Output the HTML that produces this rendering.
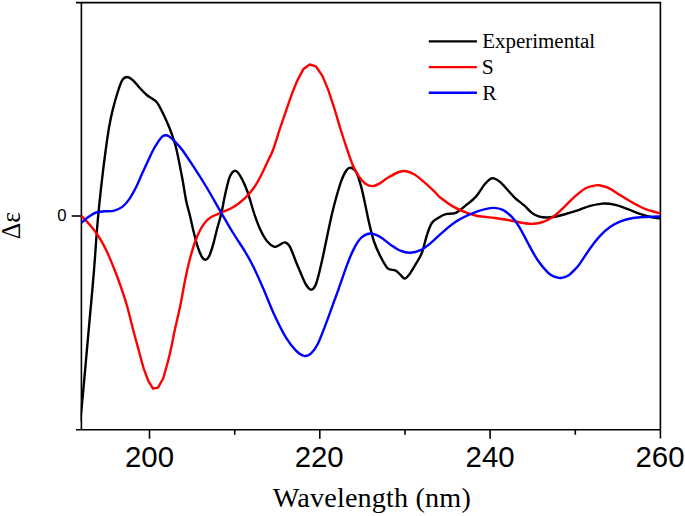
<!DOCTYPE html>
<html><head><meta charset="utf-8"><style>
html,body{margin:0;padding:0;background:#fff;}
body{width:685px;height:516px;overflow:hidden;position:relative;}
svg{position:absolute;left:0;top:0;display:block;}
.sans{font-family:"Liberation Sans",sans-serif;fill:#000;}
.serif{font-family:"Liberation Serif",serif;fill:#000;}
</style></head><body>
<svg width="685" height="516" viewBox="0 0 685 516">
<rect width="685" height="516" fill="#fff"/>
<defs><clipPath id="cp"><rect x="80.6" y="0" width="580.7" height="430.5"/></clipPath></defs>
<g stroke="#000" stroke-width="1.6" fill="none" stroke-linecap="butt">
<path d="M76 2.6H660.4"/>
<path d="M76 429.7H660.4"/>
<path d="M81.4 2.6V429.7"/>
<path d="M660.4 1.8V438.6"/>
<path d="M71.7 216H81.4"/>
<path d="M149.5 429.7V438.8M319.8 429.7V438.8M490.1 429.7V438.8"/>
<path d="M234.7 429.7V434.7M405.0 429.7V434.7M575.3 429.7V434.7"/>
</g>
<g clip-path="url(#cp)" fill="none" stroke-linecap="butt" stroke-linejoin="round" stroke-width="2.4">
<path d="M80.2 421.0C80.4 419.2 80.9 415.2 81.4 410.0C81.9 404.8 82.5 398.3 83.3 390.0C84.1 381.7 85.1 370.0 86.0 360.0C86.9 350.0 87.8 340.4 88.7 330.0C89.6 319.6 90.7 307.6 91.6 297.8C92.5 288.1 93.1 281.1 93.9 271.5C94.7 261.9 95.6 248.6 96.2 240.0C96.8 231.4 97.1 227.8 97.8 220.1C98.5 212.4 99.5 202.0 100.4 193.8C101.3 185.6 102.1 178.3 103.0 171.0C103.9 163.7 104.7 157.4 105.7 150.0C106.7 142.6 108.0 133.3 109.2 126.6C110.4 119.9 111.2 115.8 112.7 109.9C114.2 104.1 116.3 96.5 117.9 91.5C119.5 86.5 120.8 82.5 122.3 80.1C123.8 77.7 125.2 77.0 127.0 77.0C128.8 77.0 130.7 78.3 132.8 80.1C134.9 81.9 137.5 85.5 139.8 88.0C142.1 90.5 144.8 93.2 146.8 95.0C148.9 96.8 150.3 97.2 152.1 98.5C153.8 99.8 155.6 100.6 157.3 102.9C159.1 105.2 160.6 108.4 162.6 112.6C164.6 116.8 167.7 123.6 169.6 128.3C171.5 133.0 172.8 137.0 174.0 140.6C175.2 144.2 175.3 144.1 176.6 150.0C177.9 155.9 180.3 168.0 181.9 176.3C183.5 184.6 184.8 193.8 186.0 200.0C187.2 206.2 188.2 208.4 189.4 213.6C190.7 218.8 192.2 225.8 193.5 231.2C194.8 236.6 196.2 241.9 197.5 246.1C198.8 250.3 200.3 254.0 201.6 256.3C202.9 258.6 204.2 259.7 205.4 259.7C206.7 259.7 207.8 258.8 209.1 256.3C210.4 253.8 211.8 249.3 213.1 244.7C214.4 240.1 215.8 233.7 217.2 228.5C218.6 223.3 219.9 219.6 221.3 213.5C222.7 207.4 224.2 198.2 225.7 192.0C227.1 185.8 228.4 179.9 230.0 176.3C231.6 172.8 233.6 170.7 235.3 170.7C237.1 170.7 238.4 172.8 240.5 176.3C242.6 179.9 245.2 185.6 247.6 192.0C249.9 198.4 252.4 208.5 254.6 214.8C256.8 221.1 258.4 225.6 260.5 230.0C262.6 234.4 265.0 238.7 267.3 241.5C269.6 244.3 272.3 246.2 274.3 246.8C276.3 247.4 277.8 245.7 279.5 245.0C281.2 244.3 283.1 242.1 284.8 242.4C286.6 242.7 288.0 243.2 290.0 246.8C292.0 250.5 294.6 258.6 297.0 264.3C299.4 270.0 302.5 277.5 304.1 281.0C305.7 284.5 305.8 284.2 306.6 285.5C307.4 286.8 308.2 287.9 309.0 288.6C309.8 289.3 310.5 289.7 311.2 289.7C311.9 289.7 312.6 289.4 313.4 288.6C314.1 287.8 314.8 287.0 315.7 284.8C316.6 282.6 317.5 279.2 318.5 275.5C319.5 271.8 320.2 268.9 321.6 262.6C323.0 256.4 325.2 245.8 326.8 238.0C328.4 230.2 330.0 222.6 331.5 216.0C333.0 209.4 334.4 204.2 336.0 198.3C337.6 192.4 339.6 185.5 341.3 180.8C343.1 176.1 344.9 172.5 346.5 170.3C348.1 168.1 349.3 167.4 350.9 167.7C352.5 168.0 354.5 168.9 356.2 172.0C357.9 175.1 359.5 180.8 361.0 186.1C362.5 191.3 363.7 197.5 365.0 203.5C366.3 209.5 367.4 215.7 368.9 222.0C370.4 228.3 372.1 235.9 374.0 241.5C375.9 247.1 377.8 251.3 380.1 255.8C382.4 260.3 385.2 266.0 387.7 268.4C390.2 270.8 393.2 269.3 395.3 270.4C397.4 271.4 398.8 273.3 400.3 274.7C401.9 276.1 403.1 278.5 404.6 278.5C406.1 278.5 407.3 277.0 409.1 274.7C410.9 272.4 413.3 268.2 415.4 264.6C417.5 261.0 419.8 258.1 421.7 253.3C423.6 248.5 425.1 240.7 426.8 235.6C428.5 230.5 429.9 225.9 431.8 223.0C433.7 220.1 435.8 219.5 438.1 218.0C440.4 216.5 442.8 215.0 445.7 214.2C448.6 213.3 452.3 214.4 455.7 212.9C459.1 211.4 462.4 208.1 465.8 205.4C469.2 202.7 472.8 200.1 475.9 196.6C479.0 193.1 482.1 187.4 484.5 184.5C486.9 181.6 488.6 179.9 490.2 178.9C491.8 177.9 492.3 177.9 494.0 178.4C495.7 178.9 498.0 180.2 500.3 182.2C502.6 184.2 505.4 187.5 507.9 190.2C510.4 192.9 512.7 195.8 515.4 198.3C518.1 200.8 521.5 203.0 524.2 205.4C526.9 207.8 529.3 211.0 531.8 212.9C534.3 214.8 536.7 215.9 539.4 216.7C542.1 217.5 545.1 217.6 548.2 217.5C551.4 217.4 554.5 216.8 558.3 216.0C562.1 215.2 567.7 213.3 570.9 212.4C574.1 211.5 574.4 211.5 577.6 210.4C580.8 209.3 586.0 207.0 590.2 205.9C594.4 204.8 598.6 203.8 602.8 203.6C607.0 203.4 611.2 204.0 615.4 204.9C619.6 205.8 623.8 207.6 628.0 209.2C632.2 210.8 636.8 212.9 640.6 214.2C644.4 215.5 647.4 216.3 650.7 217.0C654.0 217.7 658.7 218.2 660.3 218.5" stroke="#000"/>
<path d="M81.4 215.8C82.3 216.8 85.2 219.6 87.0 221.6C88.8 223.6 90.5 225.5 92.2 227.7C93.9 229.9 95.7 232.1 97.4 234.7C99.2 237.3 101.0 240.2 102.7 243.4C104.5 246.6 106.2 250.0 107.9 253.8C109.6 257.6 111.3 261.7 113.1 266.1C114.8 270.5 116.7 275.2 118.4 280.0C120.2 284.8 122.1 290.3 123.6 294.9C125.1 299.5 125.9 301.6 127.5 307.5C129.1 313.4 131.3 322.7 133.2 330.0C135.1 337.3 137.2 344.8 139.0 351.3C140.8 357.8 142.2 363.9 143.8 368.8L148.3 380.8L153.1 388.7L158.0 387.6L163.2 378.5L168.1 361.0C169.6 355.3 170.8 349.7 171.9 344.5C173.0 339.3 173.4 336.3 174.8 330.0C176.2 323.7 178.3 315.2 180.1 306.6C181.9 298.0 183.8 286.4 185.4 278.5C187.0 270.6 188.2 265.3 189.8 259.3C191.4 253.3 193.1 247.4 194.8 242.5C196.6 237.6 198.5 233.3 200.3 229.8C202.1 226.3 203.7 223.9 205.7 221.7C207.7 219.4 209.9 217.8 212.5 216.3C215.1 214.8 217.8 214.2 221.3 212.6C224.8 211.0 229.4 209.4 233.5 206.9C237.6 204.4 242.3 200.7 245.8 197.3C249.3 194.0 251.8 190.9 254.6 186.8C257.4 182.7 260.1 177.3 262.4 172.8C264.7 168.3 266.8 163.4 268.6 159.6C270.4 155.8 271.2 154.9 273.0 150.0C274.8 145.1 277.4 136.4 279.5 130.0C281.6 123.6 283.6 117.8 285.7 111.8C287.8 105.8 289.8 99.6 291.8 94.3C293.8 89.0 295.7 84.2 297.6 80.0L303.5 68.9L309.7 64.5L315.8 66.3L322.4 75.9L328.2 89.9L333.8 106.6C335.9 113.3 338.7 123.2 340.8 130.0C342.9 136.8 344.5 141.7 346.5 147.5C348.5 153.3 350.6 160.2 352.7 165.0C354.8 169.8 356.6 173.2 358.8 176.4C361.0 179.6 363.5 182.4 365.8 184.0C368.1 185.6 370.5 186.2 372.8 186.1C375.1 186.0 377.2 184.9 379.8 183.4C382.4 181.9 385.4 179.2 388.6 177.3C391.8 175.4 396.2 173.0 399.1 172.0C402.0 171.0 403.5 170.8 406.1 171.2C408.7 171.6 412.0 172.9 414.9 174.7C417.8 176.4 420.2 178.8 423.6 181.7C427.0 184.6 432.2 189.5 435.0 192.2C437.8 194.9 437.6 195.4 440.6 197.8C443.6 200.2 449.0 204.2 453.2 206.6C457.4 209.0 461.7 210.8 465.8 212.4C469.9 214.0 472.7 215.1 477.6 216.0C482.5 216.9 489.7 217.2 495.2 218.0C500.7 218.8 505.8 219.7 510.4 220.5C515.0 221.3 519.2 222.4 523.0 223.0C526.8 223.6 529.8 224.0 533.1 223.8C536.5 223.6 539.8 223.0 543.1 221.8C546.5 220.6 549.8 219.0 553.2 216.7C556.6 214.4 559.9 211.1 563.3 207.9C566.7 204.8 569.8 201.0 573.4 197.8C577.0 194.6 582.0 190.5 585.2 188.5C588.4 186.5 590.4 186.6 592.7 186.0C595.0 185.4 596.5 184.9 599.0 185.2C601.5 185.5 604.3 186.0 607.9 187.7C611.5 189.4 616.3 192.8 620.5 195.3C624.7 197.8 628.9 200.6 633.1 202.9C637.3 205.2 641.2 207.4 645.7 209.2C650.2 210.9 657.9 212.7 660.3 213.4" stroke="#ff0000"/>
<path d="M81.6 222.7C82.8 221.7 86.6 218.3 89.0 216.6C91.4 214.9 93.4 213.4 96.0 212.5C98.6 211.6 101.9 211.6 104.8 211.3C107.7 211.0 110.6 211.5 113.5 210.8C116.4 210.1 119.7 208.9 122.3 206.9C124.9 204.9 127.0 202.4 129.3 199.1C131.6 195.8 134.1 191.2 136.3 186.8C138.5 182.4 140.4 177.3 142.5 172.8C144.6 168.3 146.8 163.4 148.6 159.6C150.4 155.8 151.5 153.1 153.2 150.0C154.9 146.9 157.1 143.5 158.6 141.2C160.1 138.9 161.2 137.4 162.4 136.4C163.6 135.4 164.6 135.2 165.7 135.2C166.8 135.2 167.5 135.3 169.0 136.4C170.5 137.5 172.7 139.3 174.9 141.6C177.1 143.9 179.0 145.4 182.3 150.0C185.7 154.6 190.8 162.5 195.0 168.9C199.2 175.3 202.9 181.1 207.3 188.5C211.7 195.9 217.3 206.0 221.6 213.3C225.8 220.6 228.9 226.1 232.8 232.5C236.7 238.9 241.6 245.9 245.0 251.5C248.4 257.1 250.0 260.0 253.0 266.0C256.0 272.0 259.2 279.3 262.8 287.5C266.4 295.7 270.5 306.6 274.4 315.0C278.3 323.4 282.4 331.7 286.0 337.7C289.6 343.7 293.2 347.8 296.2 350.8C299.2 353.8 301.7 355.3 304.1 355.8C306.5 356.3 308.5 355.8 310.8 353.7C313.1 351.6 315.4 348.8 318.0 343.5C320.6 338.2 323.8 329.4 326.7 321.7C329.6 314.0 333.1 304.0 335.5 297.5C337.9 291.0 338.7 288.5 340.8 282.7C342.9 276.9 345.5 268.6 347.9 262.6C350.2 256.6 352.6 251.0 354.9 246.8C357.2 242.6 359.3 239.4 361.9 237.2C364.5 235.0 367.6 233.6 370.6 233.5C373.6 233.4 376.8 235.1 380.1 236.9C383.4 238.7 386.8 242.1 390.2 244.4C393.6 246.7 396.9 249.3 400.3 250.7C403.7 252.1 407.0 252.9 410.4 252.8C413.8 252.7 417.1 251.8 420.5 250.2C423.9 248.6 426.7 246.3 430.5 243.2C434.3 240.1 438.9 235.4 443.1 231.8C447.3 228.2 451.5 224.6 455.7 221.8C459.9 219.0 464.6 216.8 468.4 215.0C472.2 213.2 475.6 212.2 478.4 211.2C481.2 210.2 482.6 209.8 485.2 209.2C487.8 208.6 491.1 207.8 494.0 207.9C496.9 208.0 499.9 208.4 502.8 209.9C505.7 211.4 508.9 213.9 511.6 216.7C514.3 219.5 516.5 222.4 519.2 226.8C521.9 231.2 524.9 237.5 528.0 243.2C531.1 248.9 534.7 255.9 538.1 260.8C541.5 265.8 545.5 270.2 548.2 272.9C550.9 275.5 552.4 275.8 554.5 276.7C556.6 277.6 558.5 278.2 560.8 278.0C563.1 277.8 565.9 277.1 568.4 275.5C570.9 273.9 573.9 270.4 575.9 268.4C577.9 266.4 577.7 266.8 580.1 263.4C582.5 260.0 586.8 252.8 590.2 248.2C593.6 243.6 596.9 239.2 600.3 235.6C603.7 232.0 607.0 229.2 610.4 226.8C613.8 224.4 616.7 222.8 620.5 221.3C624.3 219.8 628.9 218.7 633.1 218.0C637.3 217.3 641.2 217.2 645.7 217.0C650.2 216.8 657.9 216.6 660.3 216.5" stroke="#0000ff"/>
</g>
<g stroke-width="2.4" stroke-linecap="butt">
<path d="M428.8 41.4H476.9" stroke="#000"/>
<path d="M428.8 67.1H476.9" stroke="#ff0000"/>
<path d="M428.8 92.8H476.9" stroke="#0000ff"/>
</g>
<g class="serif" font-size="21.6">
<text x="482.2" y="48.4" textLength="112.9" lengthAdjust="spacingAndGlyphs">Experimental</text>
<text x="481.8" y="74.1">S</text>
<text x="482.2" y="99.8">R</text>
</g>
<g class="sans" font-size="29.4" text-anchor="middle">
<text x="149.5" y="467.1">200</text>
<text x="319.2" y="467.1">220</text>
<text x="490.1" y="467.1">240</text>
<text x="660.0" y="467.1">260</text>
</g>
<text class="sans" font-size="16.7" x="61.8" y="220.7" text-anchor="middle">0</text>
<text class="serif" font-size="28.2" x="272.8" y="507.3" textLength="198" lengthAdjust="spacing">Wavelength (nm)</text>
<text class="serif" font-size="27" transform="translate(20.3 239.3) rotate(-90) scale(0.95 1)">Δε</text>
</svg>
</body></html>
